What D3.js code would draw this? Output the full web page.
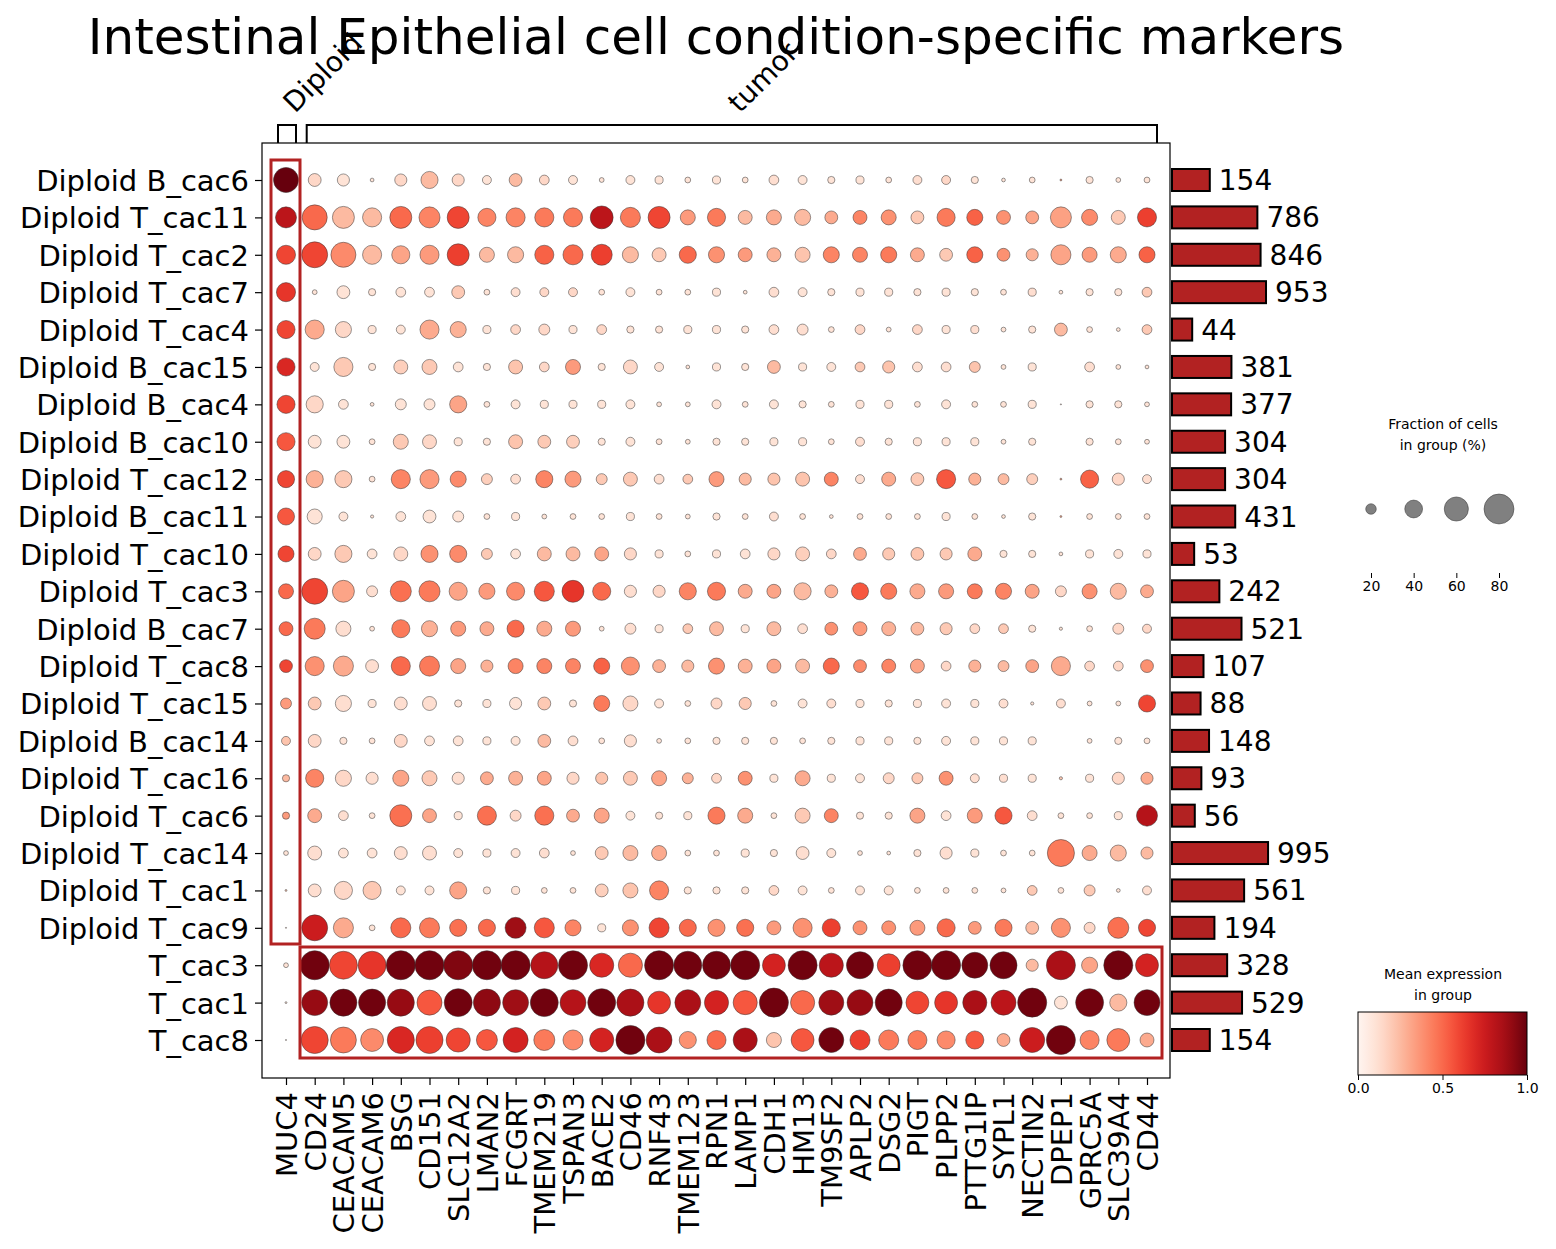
<!DOCTYPE html>
<html><head><meta charset="utf-8">
<script src="https://cdn.jsdelivr.net/npm/d3@7"></script>
<style>body{margin:0;background:#fff;font-family:"DejaVu Sans",sans-serif}</style>
</head><body><svg id="c" width="1556" height="1249"></svg>
<script>
const genes=["MUC4","CD24","CEACAM5","CEACAM6","BSG","CD151","SLC12A2","LMAN2","FCGRT","TMEM219","TSPAN3","BACE2","CD46","RNF43","TMEM123","RPN1","LAMP1","CDH1","HM13","TM9SF2","APLP2","DSG2","PIGT","PLPP2","PTTG1IP","SYPL1","NECTIN2","DPEP1","GPRC5A","SLC39A4","CD44"];
const groups=["Diploid B_cac6","Diploid T_cac11","Diploid T_cac2","Diploid T_cac7","Diploid T_cac4","Diploid B_cac15","Diploid B_cac4","Diploid B_cac10","Diploid T_cac12","Diploid B_cac11","Diploid T_cac10","Diploid T_cac3","Diploid B_cac7","Diploid T_cac8","Diploid T_cac15","Diploid B_cac14","Diploid T_cac16","Diploid T_cac6","Diploid T_cac14","Diploid T_cac1","Diploid T_cac9","T_cac3","T_cac1","T_cac8"];
const cellCounts=[154,786,846,953,44,381,377,304,304,431,53,242,521,107,88,148,93,56,995,561,194,328,529,154];
const fraction=[
[63,26,24,5,24,38,24,16,26,18,16,7,16,14,9,14,9,18,16,12,14,9,16,16,12,5,9,2,12,7,9],
[50,63,53,44,53,50,53,41,44,44,44,56,47,53,32,41,29,32,35,26,29,32,26,41,35,29,26,50,35,29,44],
[44,66,63,44,41,44,53,32,35,44,47,50,35,29,38,35,29,29,32,35,32,35,29,26,35,26,24,47,32,35,35],
[44,7,26,12,18,18,26,9,16,16,16,9,16,9,9,14,5,18,16,12,14,14,12,14,12,9,14,5,12,12,18],
[41,44,35,14,16,44,35,14,18,21,14,18,12,12,14,14,12,18,21,9,18,7,18,14,14,7,12,26,9,5,18],
[41,16,44,12,29,32,18,12,29,18,32,12,29,16,5,14,12,26,14,16,18,24,18,18,21,7,14,0,18,7,5],
[41,38,18,5,21,21,38,9,16,14,14,14,16,7,7,16,9,16,12,9,14,14,9,16,9,9,14,1,12,12,7],
[41,26,26,9,32,29,14,12,29,26,26,12,16,9,7,12,12,14,14,9,16,12,14,14,14,7,12,0,12,9,7],
[38,38,38,9,44,44,35,21,18,38,35,21,29,18,18,32,24,24,29,29,16,29,26,44,24,21,21,2,41,24,16],
[38,32,16,4,18,26,21,9,14,7,9,9,14,9,7,12,9,16,9,5,9,9,9,14,9,5,12,2,9,9,9],
[35,26,38,18,29,38,38,21,18,29,29,29,24,14,9,14,18,24,29,18,26,24,26,24,29,12,12,5,14,16,14],
[32,66,53,21,50,50,41,35,41,47,53,41,24,24,38,41,29,29,38,26,38,35,32,32,32,35,29,21,32,35,26],
[29,50,32,7,41,35,32,29,38,32,32,7,21,14,18,29,14,29,18,26,29,29,26,24,18,18,12,4,9,21,16],
[26,44,47,26,44,47,32,24,32,32,32,35,41,26,24,35,29,29,29,35,26,29,29,18,24,21,26,44,18,18,26],
[21,26,35,14,26,29,12,14,24,26,12,35,32,16,9,21,24,9,16,16,14,12,14,16,14,16,4,16,7,7,38],
[16,26,12,9,26,18,18,14,16,26,18,9,24,7,9,12,12,12,9,12,14,14,12,16,14,14,14,0,7,12,9],
[12,41,35,24,35,32,24,26,29,29,24,24,29,32,21,18,29,14,32,14,16,21,21,29,16,14,14,4,14,24,24],
[12,29,18,9,53,29,14,44,21,44,26,32,16,12,14,38,32,9,32,29,12,12,32,18,32,38,18,9,9,14,50],
[7,29,18,18,26,29,16,14,16,18,7,26,32,32,9,9,14,12,26,16,7,5,12,24,14,9,9,70,32,35,24],
[2,26,41,41,16,16,38,12,14,9,9,26,32,44,12,12,12,18,16,9,16,16,9,9,9,7,18,9,21,5,16],
[1,66,47,9,47,47,38,38,50,47,35,14,35,47,38,38,38,29,44,41,29,29,32,41,26,38,26,44,21,50,38],
[7,77,73,73,77,77,77,77,77,70,77,60,60,77,73,73,77,56,77,60,70,56,77,77,66,70,24,77,35,77,56],
[2,66,70,70,70,63,73,70,66,73,66,73,70,56,66,60,60,77,60,63,66,70,56,56,60,63,77,26,73,38,66],
[1,70,66,56,70,70,60,50,63,50,47,60,77,66,38,44,60,32,56,63,47,47,44,41,41,26,63,77,44,56,29]];
const expression=[
[1,.15,.1,.1,.15,.25,.15,.1,.25,.15,.1,.1,.1,.1,.1,.1,.1,.12,.1,.1,.1,.1,.12,.15,.1,.1,.1,.3,.1,.1,.1],
[.8,.5,.25,.25,.5,.42,.6,.42,.42,.45,.45,.8,.45,.6,.35,.45,.25,.3,.25,.3,.42,.38,.2,.45,.52,.38,.32,.33,.4,.2,.62],
[.6,.6,.4,.25,.32,.35,.62,.25,.25,.52,.5,.62,.25,.2,.5,.38,.35,.28,.22,.42,.42,.45,.3,.2,.52,.38,.28,.32,.35,.3,.52],
[.65,.1,.1,.1,.1,.1,.2,.1,.12,.15,.15,.1,.1,.1,.1,.1,.1,.12,.1,.1,.1,.1,.1,.1,.1,.1,.12,.1,.1,.1,.2],
[.6,.3,.15,.1,.1,.3,.28,.1,.15,.15,.1,.15,.1,.1,.1,.1,.1,.12,.12,.1,.15,.1,.15,.1,.12,.1,.1,.25,.1,.1,.2],
[.7,.1,.2,.1,.18,.2,.1,.1,.22,.15,.35,.1,.15,.1,.1,.1,.1,.25,.1,.1,.2,.22,.12,.12,.22,.1,.1,0,.12,.1,.1],
[.6,.15,.1,.1,.1,.1,.32,.1,.1,.1,.1,.1,.1,.1,.1,.1,.1,.1,.1,.1,.1,.1,.1,.1,.1,.1,.1,.1,.1,.1,.1],
[.55,.1,.1,.1,.2,.15,.1,.1,.22,.2,.18,.1,.1,.1,.1,.1,.1,.1,.1,.1,.12,.1,.1,.1,.1,.1,.1,0,.1,.1,.1],
[.6,.28,.2,.1,.42,.35,.4,.18,.12,.42,.35,.2,.2,.12,.2,.35,.25,.22,.22,.42,.12,.3,.2,.55,.28,.25,.18,.3,.52,.15,.12],
[.55,.1,.1,.1,.1,.1,.1,.1,.1,.1,.1,.1,.1,.1,.1,.1,.1,.12,.1,.1,.1,.1,.1,.1,.1,.1,.1,.3,.1,.1,.1],
[.6,.15,.2,.1,.15,.38,.4,.2,.1,.25,.25,.32,.15,.1,.1,.1,.1,.15,.18,.15,.3,.2,.22,.2,.3,.1,.1,.1,.1,.1,.1],
[.5,.6,.32,.12,.48,.45,.32,.35,.4,.55,.65,.5,.12,.15,.42,.45,.3,.32,.25,.28,.55,.45,.3,.35,.45,.42,.32,.15,.38,.25,.3],
[.5,.45,.12,.1,.45,.28,.35,.3,.5,.3,.35,.1,.12,.1,.2,.25,.1,.25,.12,.38,.35,.28,.25,.2,.15,.2,.1,.1,.1,.15,.15],
[.6,.38,.3,.12,.5,.45,.32,.28,.42,.42,.42,.52,.38,.28,.25,.38,.28,.32,.25,.5,.4,.42,.32,.15,.28,.25,.32,.3,.15,.15,.38],
[.35,.2,.12,.1,.12,.12,.1,.1,.1,.2,.1,.45,.15,.1,.1,.15,.2,.1,.1,.12,.1,.1,.1,.1,.1,.12,.1,.12,.1,.1,.6],
[.22,.15,.1,.1,.15,.1,.1,.1,.1,.25,.12,.1,.12,.1,.1,.1,.1,.1,.1,.1,.1,.1,.1,.1,.1,.1,.1,0,.1,.1,.1],
[.25,.42,.15,.12,.32,.2,.12,.3,.28,.32,.15,.22,.2,.32,.28,.15,.38,.1,.3,.1,.1,.15,.2,.38,.12,.12,.1,.2,.1,.15,.3],
[.35,.3,.12,.1,.48,.32,.1,.48,.15,.48,.3,.32,.1,.1,.1,.45,.3,.1,.2,.42,.1,.1,.32,.1,.35,.55,.12,.1,.1,.1,.82],
[.1,.12,.1,.1,.12,.12,.1,.1,.1,.12,.1,.2,.25,.3,.1,.1,.1,.1,.12,.1,.1,.1,.1,.12,.1,.1,.1,.45,.3,.25,.25],
[.2,.12,.15,.2,.1,.1,.32,.1,.1,.1,.1,.18,.22,.42,.1,.1,.1,.15,.1,.1,.1,.1,.1,.1,.1,.1,.2,.1,.2,.1,.12],
[.1,.75,.3,.1,.5,.45,.48,.5,.88,.55,.42,.1,.38,.6,.5,.38,.48,.35,.38,.62,.38,.38,.35,.5,.35,.45,.25,.38,.15,.48,.6],
[.1,.98,.6,.65,.98,.98,.95,.98,.98,.82,.98,.7,.5,.98,.98,.98,.98,.72,.98,.8,.98,.62,.98,.98,.98,.98,.25,.85,.32,.98,.72],
[.1,.9,.98,.98,.9,.55,.98,.92,.88,.98,.82,.98,.85,.65,.85,.72,.55,.98,.5,.88,.9,.98,.6,.65,.85,.8,.98,.1,.98,.25,.98],
[.1,.6,.45,.4,.7,.62,.6,.55,.72,.45,.4,.72,.98,.85,.38,.5,.85,.22,.55,.98,.62,.45,.45,.4,.55,.3,.75,.98,.42,.45,.3]];
const brackets=[{label:"Diploid",from:0,to:0},{label:"tumor",from:1,to:30}];
const sizeTicks=[20,40,60,80];
const colorTicks=[0,0.5,1];

const svg=d3.select("#c");
const F="DejaVu Sans";
const x=d3.scalePoint().domain(genes).range([286,1147]);
const y=d3.scalePoint().domain(groups).range([180,1040]);
const r=d3.scalePow().exponent(0.75).domain([0,100]).range([0,17.7]);
const col=d3.scaleSequential(d3.interpolateReds).domain([0,1]);
const bw=d3.scaleSqrt().domain([0,1000]).range([0,96.3]);

svg.append("text").attr("x",716).attr("y",54).attr("text-anchor","middle").attr("font-family",F).attr("font-size",50).text("Intestinal Epithelial cell condition-specific markers");

svg.append("rect").attr("x",262).attr("y",143).attr("width",908).attr("height",935).attr("fill","none").attr("stroke","#000").attr("stroke-width",1.2);

const cells=[];
groups.forEach((g,i)=>genes.forEach((gn,j)=>cells.push({g,gn,f:fraction[i][j],e:expression[i][j]})));
svg.append("g").selectAll("circle").data(cells.filter(d=>d.f>0)).join("circle")
 .attr("cx",d=>x(d.gn)).attr("cy",d=>y(d.g)).attr("r",d=>r(d.f))
 .attr("fill",d=>col(d.e)).attr("stroke","#333").attr("stroke-width",0.5);

const yAx=svg.append("g").attr("transform","translate(262,0)").call(d3.axisLeft(y).tickSize(7).tickPadding(6));
yAx.select(".domain").remove();
yAx.selectAll("line").attr("stroke-width",1.2);
yAx.selectAll("text").attr("font-family",F).attr("font-size",29).attr("fill","#000").attr("dy","0.36em");
const xAx=svg.append("g").attr("transform","translate(0,1078)").call(d3.axisBottom(x).tickSize(7));
xAx.select(".domain").remove();
xAx.selectAll("line").attr("stroke-width",1.2);
xAx.selectAll("text").attr("font-family",F).attr("font-size",29).attr("fill","#000")
 .attr("transform","rotate(-90)").attr("text-anchor","end").attr("y",0).attr("x",-14).attr("dy","0.36em");

svg.append("rect").attr("x",271).attr("y",160).attr("width",29).attr("height",784).attr("fill","none").attr("stroke","#b22222").attr("stroke-width",3);
svg.append("rect").attr("x",300).attr("y",947).attr("width",862).attr("height",111).attr("fill","none").attr("stroke","#b22222").attr("stroke-width",3);

brackets.forEach(b=>{
 const x0=x(genes[b.from])-8, x1=x(genes[b.to])+10;
 svg.append("path").attr("d",`M${x0},143V125H${x1}V143`).attr("fill","none").attr("stroke","#000").attr("stroke-width",2);
 const cx=(x0+x1)/2;
 svg.append("text").attr("transform",`translate(${cx+8},114) rotate(-45)`).attr("font-family",F).attr("font-size",28).text(b.label);
});

const bg=svg.append("g");
groups.forEach((g,i)=>{
 bg.append("rect").attr("x",1172).attr("y",y(g)-11).attr("width",bw(cellCounts[i])).attr("height",22)
  .attr("fill","#b22222").attr("stroke","#000").attr("stroke-width",2);
 bg.append("text").attr("x",1172+bw(cellCounts[i])+9).attr("y",y(g)+10).attr("font-family",F).attr("font-size",28).text(cellCounts[i]);
});

const lt=svg.append("g").attr("font-family",F).attr("font-size",14).attr("text-anchor","middle");
lt.append("text").attr("x",1443).attr("y",429).text("Fraction of cells");
lt.append("text").attr("x",1443).attr("y",450).text("in group (%)");
const sx=d3.scalePoint().domain(sizeTicks).range([1371,1499]);
svg.append("g").selectAll("circle").data(sizeTicks).join("circle").attr("cx",d=>sx(d)).attr("cy",509).attr("r",d=>r(d))
 .attr("fill","#808080").attr("stroke","#333").attr("stroke-width",0.5);
const sAx=svg.append("g").attr("transform","translate(0,573)").call(d3.axisBottom(sx).tickSize(5));
sAx.select(".domain").remove();
sAx.selectAll("text").attr("font-family",F).attr("font-size",14).attr("fill","#000");

lt.append("text").attr("x",1443).attr("y",979).text("Mean expression");
lt.append("text").attr("x",1443).attr("y",1000).text("in group");
const grad=svg.append("defs").append("linearGradient").attr("id","gr");
d3.range(0,1.01,0.05).forEach(t=>grad.append("stop").attr("offset",t).attr("stop-color",col(t)));
svg.append("rect").attr("x",1358).attr("y",1012).attr("width",169).attr("height",63).attr("fill","url(#gr)").attr("stroke","#000").attr("stroke-width",1);
const cx2=d3.scaleLinear().domain([0,1]).range([1358,1527]);
const cAx=svg.append("g").attr("transform","translate(0,1075)").call(d3.axisBottom(cx2).tickValues(colorTicks).tickFormat(d3.format(".1f")).tickSize(5));
cAx.select(".domain").remove();
cAx.selectAll("text").attr("font-family",F).attr("font-size",14).attr("fill","#000");
</script></body></html>
